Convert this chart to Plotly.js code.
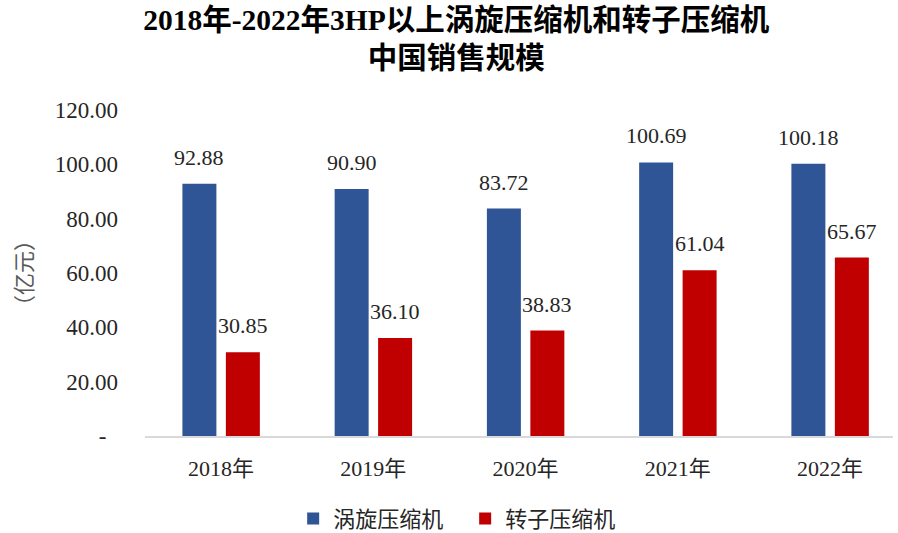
<!DOCTYPE html>
<html>
<head>
<meta charset="utf-8">
<script src="https://cdn.plot.ly/plotly-3.0.1.min.js"></script>
<style>html,body{margin:0;padding:0;background:#fff;overflow:hidden;}</style>
</head>
<body>
<div id="chart" style="width:898px;height:533px;"></div>
<script>
var categories = ["2018年", "2019年", "2020年", "2021年", "2022年"];
var scrollValues = [92.88, 90.90, 83.72, 100.69, 100.18];
var rotorValues = [30.85, 36.10, 38.83, 61.04, 65.67];
var seriesNames = ["涡旋压缩机", "转子压缩机"];
var yTickVals = [0, 20, 40, 60, 80, 100, 120];
var yTickText = ["-\u00a0\u00a0", "20.00", "40.00", "60.00", "80.00", "100.00", "120.00"];

var serif = '"Liberation Serif", "Times New Roman", "Noto Sans CJK SC", serif';
var txtColor = '#262626';

var traces = [
  {type: 'bar', name: seriesNames[0], x: categories, y: scrollValues, marker: {color: '#2F5597'}, hoverinfo: 'skip'},
  {type: 'bar', name: seriesNames[1], x: categories, y: rotorValues, marker: {color: '#C00000'}, hoverinfo: 'skip'}
];

var annotations = [];
function addLabels(vals, shift) {
  vals.forEach(function (v, i) {
    annotations.push({
      x: categories[i], y: v, xref: 'x', yref: 'y',
      text: v.toFixed(2), showarrow: false,
      xanchor: 'center', yanchor: 'bottom',
      xshift: shift, yshift: 12,
      font: {family: serif, size: 22, color: txtColor}
    });
  });
}
addLabels(scrollValues, -21.75);
addLabels(rotorValues, 21.75);

var layout = {
  width: 898, height: 533,
  margin: {l: 145, r: 5, t: 110, b: 97},
  paper_bgcolor: '#ffffff', plot_bgcolor: '#ffffff',
  title: {
    text: '2018年-2022年3HP以上涡旋压缩机和转子压缩机<br>中国销售规模',
    font: {family: serif, size: 29.5, color: '#000000', weight: 'bold'},
    xref: 'container', x: 0.508, xanchor: 'center',
    yref: 'container', y: 0.944, yanchor: 'top'
  },
  barmode: 'group',
  bargap: 0.429,
  bargroupgap: 0.218,
  xaxis: {
    type: 'category',
    range: [-0.5, 4.413],
    showline: true, linecolor: '#D9D9D9', linewidth: 2,
    ticks: '', showgrid: false, zeroline: false,
    tickfont: {family: serif, size: 22, color: txtColor},
    ticklabelstandoff: 12
  },
  yaxis: {
    range: [0, 120],
    tickvals: yTickVals, ticktext: yTickText,
    showgrid: false, zeroline: false, showline: false, ticks: '',
    tickfont: {family: serif, size: 23, color: txtColor},
    ticklabelstandoff: 26,
    title: {text: '（亿元）', font: {family: '"Noto Sans CJK SC", sans-serif', size: 22, color: '#595959'}, standoff: 16}
  },
  showlegend: true,
  legend: {
    orientation: 'h',
    xref: 'container', x: 0.518, xanchor: 'center',
    yref: 'container', y: 0.027, yanchor: 'middle',
    font: {family: serif, size: 22, color: txtColor},
    itemwidth: 30,
    entrywidth: 127
  },
  annotations: annotations
};

Plotly.newPlot('chart', traces, layout, {displayModeBar: false, staticPlot: true});
</script>
</body>
</html>
